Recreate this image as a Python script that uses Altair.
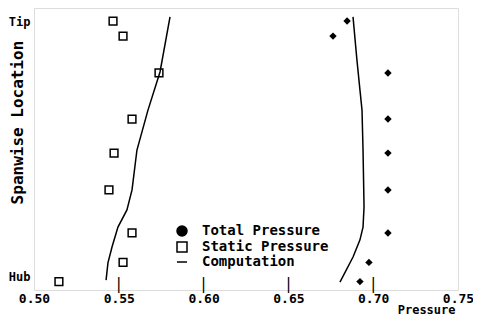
import altair as alt
import pandas as pd

FONT = "DejaVu Sans Mono"

# Measured points (span: 0 = Hub, 1 = Tip)
span_pts = [1.0, 0.941, 0.797, 0.617, 0.484, 0.340, 0.172, 0.057, -0.018]
static_p = [0.5466, 0.5525, 0.5737, 0.5578, 0.5472, 0.5442, 0.5578, 0.5525, 0.5147]
total_p = [0.6846, 0.6763, 0.7087, 0.7087, 0.7087, 0.7087, 0.7087, 0.6975, 0.6922]

# Computation curves
comp_static_span = [1.016, 0.801, 0.652, 0.496, 0.340, 0.262, 0.195, 0.117, 0.055, -0.012]
comp_static_p = [0.5802, 0.5743, 0.5672, 0.5607, 0.5578, 0.5548, 0.5495, 0.5460, 0.5436, 0.5425]
comp_total_span = [1.016, 0.848, 0.730, 0.652, 0.496, 0.273, 0.195, 0.145, 0.078, -0.020]
comp_total_p = [0.6881, 0.6904, 0.6922, 0.6934, 0.6940, 0.6946, 0.6940, 0.6922, 0.6881, 0.6804]

x_ticks = [0.50, 0.55, 0.60, 0.65, 0.70, 0.75]
inner_ticks = [0.55, 0.60, 0.65, 0.70]
series = ["Total Pressure", "Static Pressure", "Computation"]

static_df = pd.DataFrame({"p": static_p, "span": span_pts})
total_df = pd.DataFrame({"p": total_p, "span": span_pts})
comp_df = pd.concat([
    pd.DataFrame({"p": comp_static_p, "span": comp_static_span, "curve": "static",
                  "order": range(len(comp_static_p))}),
    pd.DataFrame({"p": comp_total_p, "span": comp_total_span, "curve": "total",
                  "order": range(len(comp_total_p))}),
])
tick_df = pd.DataFrame({"p": inner_ticks})
legend_df = pd.DataFrame({"series": series, "p": [0.6] * 3, "span": [0.5] * 3})

PLOT_H = 282
Y_MIN, Y_MAX = -0.0508, 1.0508

xscale = alt.Scale(domain=[0.5, 0.75], nice=False, zero=False)
yscale = alt.Scale(domain=[Y_MIN, Y_MAX], nice=False, zero=False)

x_axis = alt.Axis(values=x_ticks, labelExpr="format(datum.value, '.2f') + '\u00a0'",
                  ticks=False, domain=False, grid=False,
                  labelFont=FONT, labelFontSize=13, labelFontWeight="bold",
                  labelColor="black", labelPadding=2, labelFlush=False,
                  title="Pressure", titleFont=FONT, titleFontSize=12, titleFontWeight="bold",
                  titleAlign="right", titleAnchor="end", titleX=421, titleY=23,
                  titleBaseline="alphabetic", titleColor="black")
y_axis = alt.Axis(values=[0, 1], labelExpr="datum.value == 1 ? 'Tip' : 'Hub'",
                  ticks=False, domain=False, grid=False,
                  labelFont=FONT, labelFontSize=12, labelFontWeight="bold",
                  labelColor="black", labelPadding=4,
                  title="Spanwise Location", titleFont=FONT, titleFontSize=16,
                  titleFontWeight="bold", titleColor="black", titleAngle=-90,
                  titleX=-17, titleY=114, titleAlign="center", titleBaseline="middle")

base_x = alt.X("p:Q", scale=xscale, axis=x_axis)
base_y = alt.Y("span:Q", scale=yscale, axis=y_axis)

leg = alt.Legend(title=None, orient="none", legendX=141, legendY=216,
                 labelFont=FONT, labelFontSize=14, labelFontWeight="bold", labelColor="black",
                 labelOffset=13, rowPadding=0, padding=0,
                 symbolSize=100, symbolStrokeWidth=1.5)

# inward-pointing tick marks on the bottom axis, drawn as bar glyphs
ticks = alt.Chart(tick_df).transform_calculate(
    y_lo=str(Y_MIN)
).mark_text(text="|", font=FONT, fontSize=15, baseline="bottom", align="center",
            color="black", dy=2).encode(
    x=base_x,
    y=alt.Y("y_lo:Q", scale=yscale, axis=y_axis),
)

lines = alt.Chart(comp_df).mark_line(color="black", strokeWidth=1.5).encode(
    x=base_x, y=base_y, detail="curve:N", order="order:Q"
)

static_pts = alt.Chart(static_df).mark_point(
    shape="square", size=60, filled=False, color="black", strokeWidth=1.5, opacity=1
).encode(x=base_x, y=base_y)

total_pts = alt.Chart(total_df).mark_point(
    shape="diamond", size=55, filled=True, color="black", opacity=1
).encode(x=base_x, y=base_y)

# Legend-only layer (no visible marks)
legend_layer = alt.Chart(legend_df).transform_filter("datum.span > 10").mark_point(
    strokeWidth=1.5, opacity=1
).encode(
    x=base_x, y=base_y,
    shape=alt.Shape("series:N", scale=alt.Scale(domain=series, range=["circle", "square", "stroke"]),
                    legend=leg),
    fill=alt.Fill("series:N", scale=alt.Scale(domain=series, range=["black", "white", "black"]),
                  legend=leg),
    stroke=alt.Stroke("series:N", scale=alt.Scale(domain=series, range=["black", "black", "black"]),
                      legend=leg),
)

chart = alt.layer(lines, static_pts, total_pts, ticks, legend_layer).properties(
    width=424, height=PLOT_H,
    padding={"left": 26, "top": 0, "right": 15, "bottom": 25},
    autosize=alt.AutoSizeParams(type="none"),
).configure_view(stroke="black", strokeWidth=1.5).configure(background="white")

chart.save("out.html", embed_options={"renderer": "svg", "actions": False})
